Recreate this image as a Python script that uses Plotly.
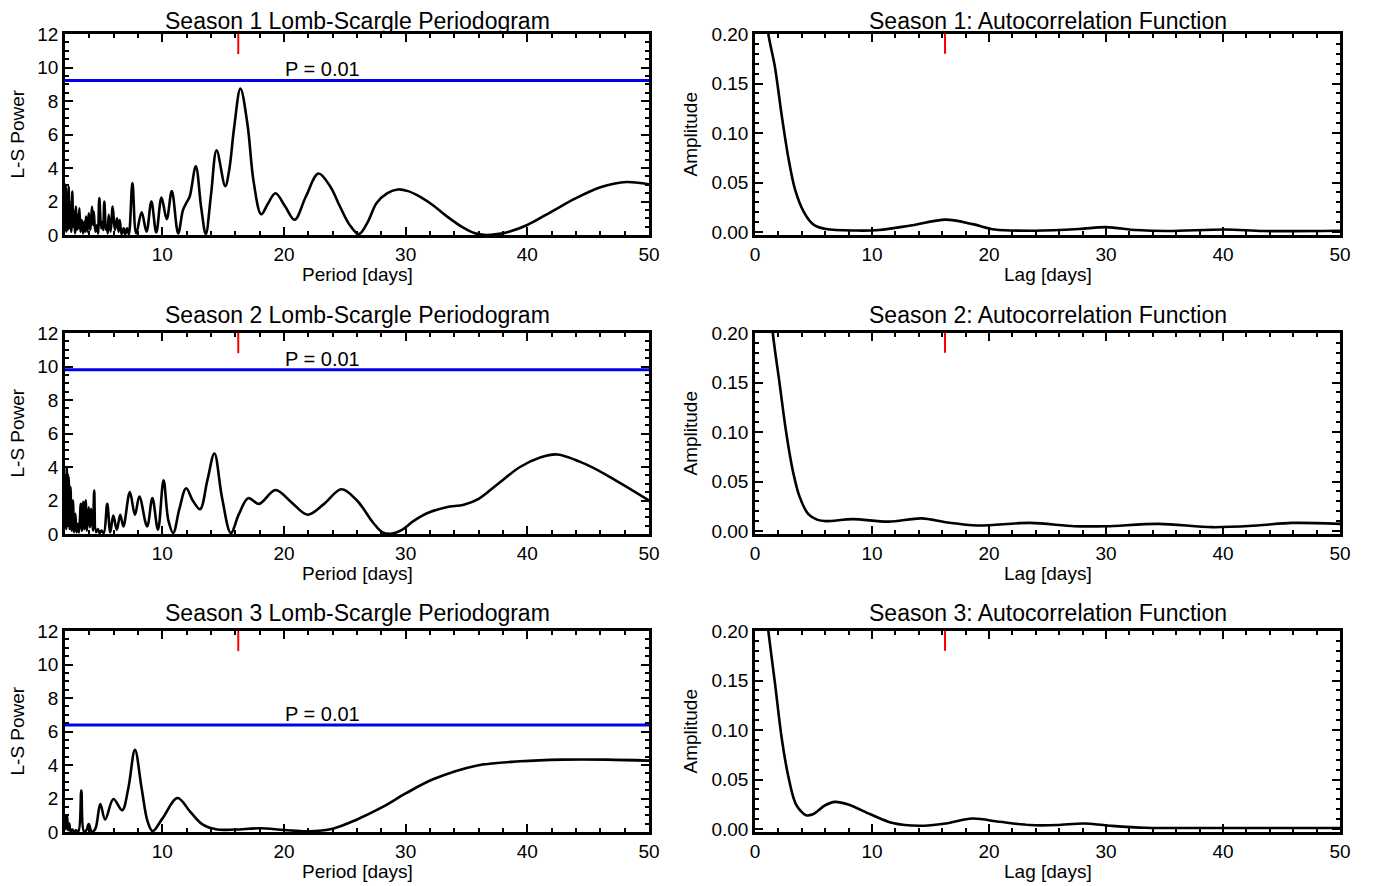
import plotly.graph_objects as go

# ---------------- data ----------------
s1_period = [2.0, 2.05, 2.1, 2.17, 2.22, 2.3, 2.36, 2.45, 2.52, 2.6, 2.67, 2.75, 2.82, 2.9, 2.98,
             3.08, 3.13, 3.18, 3.27, 3.38, 3.48, 3.6, 3.66, 3.73, 3.85, 3.95, 4.08, 4.22, 4.3, 4.36,
             4.5, 4.65, 4.72, 4.82, 4.98, 5.1, 5.15, 5.23, 5.38, 5.48, 5.52, 5.59, 5.75, 5.92, 6.1,
             6.28, 6.4, 6.5, 6.65, 6.82, 6.95, 7.1, 7.25, 7.54, 7.85, 8.3, 8.7, 9.1, 9.5, 9.93,
             10.36, 10.78, 11.3, 11.7, 12.0, 12.25, 12.75, 13.2, 13.57, 14.0, 14.46, 15.17, 15.5,
             15.9, 16.42, 17.0, 17.5, 18.13, 18.7, 19.3, 20.1, 20.87, 21.8, 22.83, 23.8, 24.6, 25.4,
             26.15, 26.9, 27.6, 28.5, 29.36, 30.2, 31.2, 32.3, 33.5, 34.7, 35.7, 36.56, 37.5, 38.5,
             40.0, 42.0, 44.0, 46.0, 47.2, 48.15, 49.1, 50.0]
s1_power = [0.3, 3.0, 0.2, 2.5, 0.3, 2.9, 0.4, 1.8, 0.2, 2.6, 0.5, 1.4, 0.1, 1.7, 0.3,
            1.2, 0.4, 1.6, 0.2, 0.9, 0.1, 0.8, 0.2, 1.1, 0.2, 1.3, 0.3, 1.7, 0.6, 1.4,
            0.2, 0.6, 0.1, 2.2, 0.4, 0.8, 0.3, 2.0, 0.3, 0.6, 0.1, 1.2, 0.2, 1.7, 0.3,
            1.0, 0.2, 0.9, 0.05, 0.4, 0.05, 0.4, 0.05, 3.1, 0.1, 1.35, 0.2, 2.0, 0.15, 2.23,
            0.95, 2.62, 0.1, 1.5, 1.95, 2.3, 4.1, 1.6, 0.05, 2.4, 5.05, 2.92, 3.9,
            6.4, 8.74, 6.6, 3.2, 1.24, 1.9, 2.49, 1.7, 0.91, 2.3, 3.67, 2.9, 1.7, 0.6,
            0.05, 0.8, 1.9, 2.5, 2.72, 2.62, 2.28, 1.75, 1.05, 0.45, 0.1, 0.0, 0.05, 0.2,
            0.6, 1.4, 2.2, 2.85, 3.08, 3.16, 3.12, 3.02]

s2_period = [2.0, 2.05, 2.1, 2.15, 2.22, 2.3, 2.38, 2.45, 2.55, 2.65, 2.75, 2.85, 2.95, 3.05, 3.15,
             3.3, 3.4, 3.5, 3.6, 3.7, 3.8, 3.95, 4.05, 4.15, 4.3, 4.4, 4.55, 4.7, 4.85, 5.0,
             5.19, 5.47, 5.72, 5.97, 6.26, 6.54, 6.8, 7.33, 7.75, 8.11, 8.75, 9.18, 9.64, 10.1,
             10.5, 10.9, 11.4, 11.96, 12.5, 13.1, 13.7, 14.28, 14.9, 15.63, 16.3, 17.06, 17.95,
             19.3, 20.6, 21.94, 23.3, 24.72, 26.0, 27.3, 28.1, 28.9, 29.7, 30.6, 31.8, 33.35,
             34.78, 36.0, 37.6, 39.4, 41.0, 42.44, 45.0, 47.5, 50.0]
s2_power = [0.5, 3.5, 0.3, 4.0, 0.5, 3.4, 0.3, 2.8, 0.2, 2.0, 0.1, 1.2, 0.1, 0.6, 0.1,
            1.8, 0.2, 1.9, 0.3, 2.0, 0.2, 1.6, 0.4, 1.5, 0.2, 2.6, 0.1, 0.3, 0.05, 0.2,
            0.05, 1.8, 0.1, 1.1, 0.26, 1.15, 0.45, 2.5, 1.15, 2.24, 0.45, 2.14, 0.26, 3.2,
            0.8, 0.06, 1.5, 2.73, 2.0, 1.48, 3.2, 4.81, 2.2, 0.06, 1.2, 2.14, 1.8,
            2.63, 1.9, 1.15, 1.8, 2.67, 2.0, 0.7, 0.1, 0.03, 0.25, 0.75, 1.25, 1.6,
            1.75, 2.1, 3.0, 4.0, 4.55, 4.75, 4.1, 3.1, 2.0]

s3_period = [2.0, 2.05, 2.1, 2.17, 2.25, 2.35, 2.45, 2.6, 2.75, 2.9, 3.1, 3.34, 3.55, 3.75, 3.95,
             4.2, 4.5, 4.9, 5.3, 5.98, 6.7, 7.2, 7.75, 8.3, 8.8, 9.2, 10.0, 11.25, 12.3, 13.3,
             14.5, 16.0, 18.0, 20.0, 22.0, 24.0, 26.0, 28.0, 30.0, 32.3, 35.8, 39.4, 42.9, 46.5,
             50.0]
s3_power = [0.1, 0.9, 0.2, 1.0, 0.1, 0.5, 0.05, 0.15, 0.0, 0.1, 0.05, 2.47, 0.05, 0.1, 0.48,
            0.0, 0.2, 1.67, 0.75, 1.97, 1.3, 2.6, 4.9, 2.6, 0.6, 0.05, 0.8, 2.03, 1.2, 0.45,
            0.15, 0.15, 0.22, 0.12, 0.04, 0.2, 0.75, 1.45, 2.3, 3.16, 3.96, 4.22, 4.32, 4.32,
            4.26]

acf1_lag = [0, 0.5, 1.14, 1.7, 2.28, 2.85, 3.42, 4.18, 4.94, 6.07, 8.7, 10.6, 13.3, 16.3, 18.6,
            20.5, 23.9, 27.7, 30.0, 32.6, 35.3, 40.2, 43.5, 50]
acf1_amp = [0.30, 0.265, 0.2, 0.167, 0.118, 0.075, 0.043, 0.02, 0.008, 0.003, 0.0015, 0.002,
            0.0066, 0.0125, 0.008, 0.0026, 0.0013, 0.003, 0.005, 0.002, 0.001, 0.0026, 0.001, 0.0013]

acf2_lag = [0, 0.8, 1.52, 2.09, 2.66, 3.23, 3.8, 4.56, 5.3, 6.07, 8.35, 11.4, 14.24, 16.3, 19.0,
            23.5, 27.3, 30.0, 34.5, 39.1, 42.9, 45.9, 50]
acf2_amp = [0.36, 0.29, 0.2, 0.15, 0.1, 0.061, 0.035, 0.017, 0.0115, 0.010, 0.012, 0.0095,
            0.0128, 0.0089, 0.0056, 0.0082, 0.0049, 0.0049, 0.0072, 0.0039, 0.0056, 0.0082, 0.0072]

acf3_lag = [0, 0.5, 1.14, 1.7, 2.28, 2.85, 3.5, 4.37, 4.94, 6.0, 6.83, 7.97, 9.87, 11.77, 14.05,
            16.3, 18.6, 20.9, 23.5, 25.8, 28.1, 30.4, 33.4, 40, 50]
acf3_amp = [0.32, 0.27, 0.2, 0.148, 0.092, 0.053, 0.025, 0.0139, 0.0149, 0.024, 0.0274, 0.0248,
            0.0149, 0.006, 0.0033, 0.0056, 0.0106, 0.0073, 0.004, 0.004, 0.0056, 0.0033, 0.0013,
            0.001, 0.001]

p01_levels = [9.23, 9.8, 6.39]
p01_label = "P = 0.01"
marked_period = 16.24

ls_titles = ["Season 1 Lomb-Scargle Periodogram", "Season 2 Lomb-Scargle Periodogram",
             "Season 3 Lomb-Scargle Periodogram"]
acf_titles = ["Season 1: Autocorrelation Function", "Season 2: Autocorrelation Function",
              "Season 3: Autocorrelation Function"]

ls_data = [(s1_period, s1_power), (s2_period, s2_power), (s3_period, s3_power)]
acf_data = [(acf1_lag, acf1_amp), (acf2_lag, acf2_amp), (acf3_lag, acf3_amp)]

# ---------------- layout geometry (page pixels) ----------------
OFF = 8                      # default page body margin
PAGE_W, PAGE_H = 1375, 886
W, H = PAGE_W - OFF, PAGE_H - OFF
FONT = "Liberation Sans, Arial, Helvetica, sans-serif"
left_px = (65, 649)
right_px = (755, 1340)
rows_px = [(34, 235), (333, 534), (631, 832)]
title_px = [21, 315, 613]


def fx(p):
    return (p - OFF) / W


def fy(p):
    return 1 - (p - OFF) / H


def xdom(px):
    return [fx(px[0]), fx(px[1])]


def ydom(py):
    return [fy(py[1]), fy(py[0])]


fig = go.Figure()
layout = dict(
    width=W, height=H, margin=dict(l=0, r=0, t=0, b=0, pad=0, autoexpand=False),
    paper_bgcolor="white", plot_bgcolor="white", showlegend=False,
    font=dict(family=FONT, color="black", size=19),
)
annotations = []

axis_common = dict(
    showline=True, linewidth=2.5, linecolor="black", mirror="allticks",
    ticks="inside", ticklen=8, tickwidth=2, tickcolor="black",
    showgrid=False, zeroline=False, fixedrange=True, automargin=False,
    tickfont=dict(family=FONT, size=19, color="black"),
)

for r in range(3):
    top, bot = rows_px[r]
    title_y = title_px[r]
    # ----- Lomb-Scargle panel -----
    k = 2 * r + 1
    xa, ya = ("x" if k == 1 else f"x{k}"), ("y" if k == 1 else f"y{k}")
    per, pw = ls_data[r]
    fig.add_trace(go.Scatter(x=per, y=pw, mode="lines", xaxis=xa, yaxis=ya,
                             line=dict(color="black", width=2.6, shape="spline", smoothing=1.0)))
    fig.add_trace(go.Scatter(x=[2, 50], y=[p01_levels[r], p01_levels[r]], mode="lines",
                             xaxis=xa, yaxis=ya, line=dict(color="#0000ee", width=3)))
    fig.add_trace(go.Scatter(x=[marked_period, marked_period], y=[12, 10.8], mode="lines",
                             xaxis=xa, yaxis=ya, line=dict(color="#ff0000", width=2)))
    layout[f"xaxis{'' if k == 1 else k}"] = dict(
        axis_common, domain=xdom(left_px), anchor=ya, range=[2, 50],
        tick0=0, dtick=10, minor=dict(ticks="inside", ticklen=4, tickwidth=2,
                                      tickcolor="black", dtick=2))
    layout[f"yaxis{'' if k == 1 else k}"] = dict(
        axis_common, domain=ydom(rows_px[r]), anchor=xa, range=[0, 12],
        tick0=0, dtick=2, minor=dict(ticks="inside", ticklen=4, tickwidth=2,
                                     tickcolor="black", dtick=0.5))
    annotations.append(dict(x=23.2, y=p01_levels[r], xref=xa, yref=ya, text=p01_label,
                            showarrow=False, yanchor="bottom", xanchor="center", yshift=-2,
                            font=dict(family=FONT, size=20, color="black")))
    cx = (left_px[0] + left_px[1]) / 2
    annotations.append(dict(x=fx(cx), y=fy(title_y), xref="paper", yref="paper",
                            text=ls_titles[r], showarrow=False, xanchor="center", yanchor="middle",
                            font=dict(family=FONT, size=23, color="black")))
    annotations.append(dict(x=fx(cx), y=fy(bot + 39), xref="paper", yref="paper",
                            text="Period [days]", showarrow=False, xanchor="center",
                            yanchor="middle", font=dict(family=FONT, size=19, color="black")))
    annotations.append(dict(x=fx(17), y=fy((top + bot) / 2), xref="paper", yref="paper",
                            text="L-S Power", textangle=-90, showarrow=False, xanchor="center",
                            yanchor="middle", font=dict(family=FONT, size=19, color="black")))

    # ----- ACF panel -----
    k = 2 * r + 2
    xa, ya = f"x{k}", f"y{k}"
    lag, amp = acf_data[r]
    fig.add_trace(go.Scatter(x=lag, y=amp, mode="lines", xaxis=xa, yaxis=ya,
                             line=dict(color="black", width=2.6, shape="spline", smoothing=0.9)))
    fig.add_trace(go.Scatter(x=[marked_period, marked_period], y=[0.2, 0.18], mode="lines",
                             xaxis=xa, yaxis=ya, line=dict(color="#ff0000", width=2)))
    layout[f"xaxis{k}"] = dict(
        axis_common, domain=xdom(right_px), anchor=ya, range=[0, 50],
        tick0=0, dtick=10, minor=dict(ticks="inside", ticklen=4, tickwidth=2,
                                      tickcolor="black", dtick=2))
    layout[f"yaxis{k}"] = dict(
        axis_common, domain=ydom(rows_px[r]), anchor=xa, range=[-0.003, 0.2],
        tick0=0, dtick=0.05, tickformat=".2f",
        minor=dict(ticks="inside", ticklen=4, tickwidth=2, tickcolor="black", dtick=0.01))
    cx = (right_px[0] + right_px[1]) / 2
    annotations.append(dict(x=fx(cx), y=fy(title_y), xref="paper", yref="paper",
                            text=acf_titles[r], showarrow=False, xanchor="center", yanchor="middle",
                            font=dict(family=FONT, size=23, color="black")))
    annotations.append(dict(x=fx(cx), y=fy(bot + 39), xref="paper", yref="paper",
                            text="Lag [days]", showarrow=False, xanchor="center",
                            yanchor="middle", font=dict(family=FONT, size=19, color="black")))
    annotations.append(dict(x=fx(690), y=fy((top + bot) / 2), xref="paper", yref="paper",
                            text="Amplitude", textangle=-90, showarrow=False, xanchor="center",
                            yanchor="middle", font=dict(family=FONT, size=19, color="black")))

layout["annotations"] = annotations
fig.update_layout(**layout)
fig.write_html("out.html")
